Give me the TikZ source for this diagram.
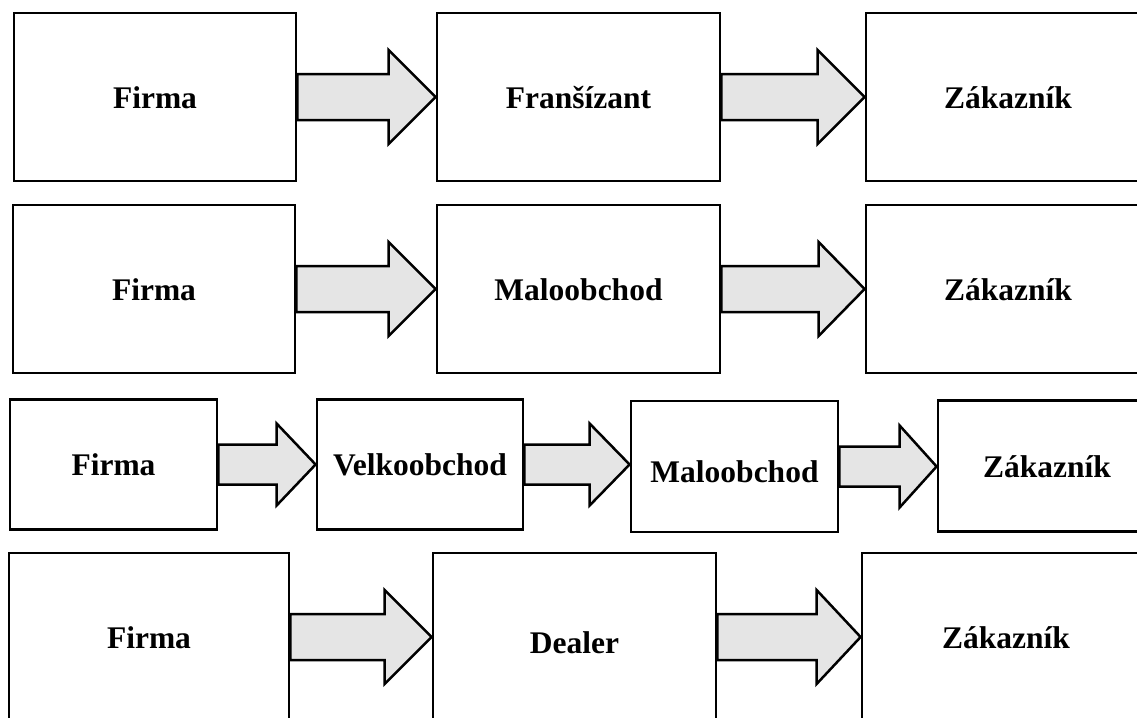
\documentclass[tikz,border=0pt]{standalone}
\usepackage{fontspec}
\setmainfont{Liberation Serif}
\usetikzlibrary{calc}

% block arrow from the east side of #1 to the west side of #2
% #3 half shaft, #4 half head, #5 head length
\newcommand{\flowarrow}[5]{%
  \draw[arrowbody] let \p1=(#1.east), \p2=(#2.west) in
    (\x1,{\y1+#3pt}) -- ({\x2-#5pt},{\y1+#3pt}) -- ({\x2-#5pt},{\y1+#4pt})
    -- (\x2,\y1) -- ({\x2-#5pt},{\y1-#4pt}) -- ({\x2-#5pt},{\y1-#3pt})
    -- (\x1,{\y1-#3pt}) -- cycle;}

\begin{document}
\begin{tikzpicture}[x=1pt,y=-1pt,
    box/.style={draw, line width=2.8pt, inner sep=0pt,
      font=\fontsize{31.5}{36}\selectfont\bfseries,
      text height=22pt, text depth=0pt},
    arrowbody/.style={draw, line width=2.5pt, fill=gray!20, line join=miter}]
  \clip (0,0) rectangle (1137,717);

  % row 1
  \node[box, minimum width=282pt, minimum height=168pt] (firma1) at (155,97) {Firma};
  \node[box, minimum width=283pt, minimum height=168pt] (fransizant) at (578.5,97) {Franšízant};
  \node[box, minimum width=284pt, minimum height=168pt] (zakaznik1) at (1008,97) {Zákazník};
  \flowarrow{firma1}{fransizant}{23}{47}{47}
  \flowarrow{fransizant}{zakaznik1}{23}{47}{47}

  % row 2
  \node[box, minimum width=282pt, minimum height=168pt] (firma2) at (154,289) {Firma};
  \node[box, minimum width=283pt, minimum height=168pt] (malo2) at (578.5,289) {Maloobchod};
  \node[box, minimum width=284pt, minimum height=168pt] (zakaznik2) at (1008,289) {Zákazník};
  \flowarrow{firma2}{malo2}{23}{47}{47}
  \flowarrow{malo2}{zakaznik2}{23}{47}{46}

  % row 3
  \node[box, minimum width=207pt, minimum height=130pt] (firma3) at (113.5,464.5) {Firma};
  \node[box, minimum width=206pt, minimum height=130pt] (velko3) at (420,464.5) {Velkoobchod};
  \node[box, minimum width=207pt, minimum height=131pt] (malo3) at (734.5,466.5) {\raisebox{-5pt}{Maloobchod}};
  \node[box, minimum width=218pt, minimum height=131pt] (zakaznik3) at (1047,466) {Zákazník};
  \flowarrow{firma3}{velko3}{20}{41}{39}
  \flowarrow{velko3}{malo3}{20}{41}{40}
  \flowarrow{malo3}{zakaznik3}{20}{41}{37}

  % row 4
  \node[box, minimum width=280pt, minimum height=168pt] (firma4) at (149,637) {Firma};
  \node[box, minimum width=283pt, minimum height=168pt] (dealer) at (574.5,637) {\raisebox{-5pt}{Dealer}};
  \node[box, minimum width=288pt, minimum height=168pt] (zakaznik4) at (1006,637) {Zákazník};
  \flowarrow{firma4}{dealer}{23}{47}{47}
  \flowarrow{dealer}{zakaznik4}{23}{47}{44}
\end{tikzpicture}
\end{document}
